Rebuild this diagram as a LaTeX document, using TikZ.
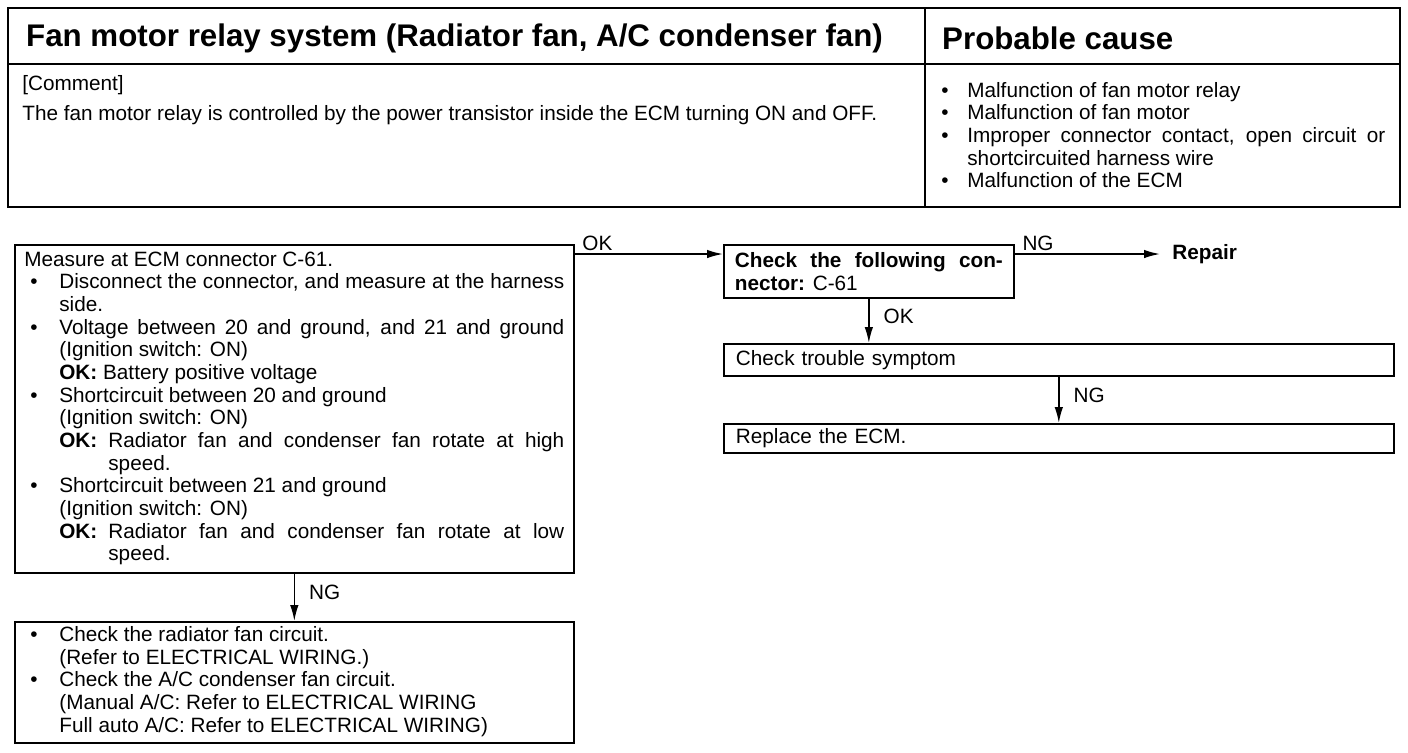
\documentclass[tikz,border=0pt]{standalone}
\usepackage{fontspec}
\setmainfont{Liberation Sans}
\usetikzlibrary{arrows.meta}
\newcommand{\blt}{\hspace{0.12cm}\textbullet}
\newcommand{\okhang}[1]{\hangindent=0.98cm\hangafter=1\noindent\makebox[0.98cm][l]{\textbf{OK:}}#1}

\begin{document}
\begin{tikzpicture}[x=0.02cm, y=-0.02cm,
    every node/.style={font=\fontsize{11.8}{12.9}\selectfont},
    bx/.style={draw, line width=1pt, anchor=north west, inner sep=0pt},
    hd/.style={anchor=west, font=\fontsize{17.8}{20}\selectfont\bfseries},
    lb/.style={inner xsep=0.14cm, inner ysep=0.06cm},
    ar/.style={-{Latex[length=0.32cm,width=0.17cm]}, line width=0.9pt}]
    \useasboundingbox (0,0) rectangle (1408,752);
    % header table
    \draw[line width=1.5pt] (8,8) rectangle (1400,207);
    \draw[line width=1pt] (8,64) -- (1400,64) (925,8) -- (925,207);
    \node[hd] (ttl) at (20,38) {Fan motor relay system (Radiator fan, A/C condenser fan)};
    \node[hd] (pcs) at (936,38) {Probable cause};
    \node[anchor=north west, inner sep=0pt, align=left] (cmt) at (22,75)
      {[Comment]\\[4pt]The fan motor relay is controlled by the power transistor inside the ECM turning ON and OFF.};
    \node[anchor=base west, inner sep=0pt] (cause) at (935,97) {\begin{tabular}[t]{@{}p{0.64cm}@{}p{8.36cm}@{}}
      \blt & Malfunction of fan motor relay\\
      \blt & Malfunction of fan motor\\
      \blt & Improper connector contact, open circuit or\linebreak shortcircuited harness wire\\
      \blt & Malfunction of the ECM
    \end{tabular}};
    % flow chart
    \node[bx, minimum width=11.18cm, minimum height=6.56cm] (meas) at (14,244) {\begin{tabular}{@{}p{0.7cm}@{}p{10.1cm}@{}}
      \multicolumn{2}{@{}p{10.8cm}@{}}{Measure at ECM connector C-61.}\\
      \blt & Disconnect the connector, and measure at the harness\linebreak side.\\
      \blt & Voltage between 20 and ground, and 21 and ground\linebreak (Ignition switch: ON)\newline
             \textbf{OK:} Battery positive voltage\\
      \blt & Shortcircuit between 20 and ground\newline (Ignition switch: ON)\par
             \okhang{Radiator fan and condenser fan rotate at high\linebreak speed.}\\
      \blt & Shortcircuit between 21 and ground\newline (Ignition switch: ON)\par
             \okhang{Radiator fan and condenser fan rotate at low\linebreak speed.}
    \end{tabular}};
    \node[bx, minimum width=11.18cm, minimum height=2.42cm] (fix) at (14,621) {\begin{tabular}{@{}p{0.7cm}@{}p{10.1cm}@{}}
      \blt & Check the radiator fan circuit.\newline (Refer to ELECTRICAL WIRING.)\\
      \blt & Check the A/C condenser fan circuit.\newline (Manual A/C: Refer to ELECTRICAL WIRING\newline
             Full auto A/C: Refer to ELECTRICAL WIRING)
    \end{tabular}};
    \node[bx, minimum width=5.8cm, minimum height=1.06cm, text width=5.36cm, align=justify] (conn) at (723,244)
      {\textbf{Check the following con-\linebreak nector:} C-61};
    \node[anchor=west, inner xsep=0.24cm, font=\fontsize{11.8}{12.9}\selectfont\bfseries] (rep) at (1160,254) {Repair};
    \node[bx, minimum width=13.4cm, minimum height=0.64cm, text width=12.92cm, align=left] (trbl) at (723,343) {Check trouble symptom};
    \node[bx, minimum width=13.4cm, minimum height=0.58cm, text width=12.92cm, align=left] (repl) at (723,423) {Replace the ECM.};
    \draw[ar] ([yshift=-0.2cm]meas.north east) -- node[lb, anchor=south west, at start]{OK} ([yshift=-0.2cm]conn.north west);
    \draw[ar] ([yshift=-0.2cm]conn.north east) -- node[lb, anchor=south west, at start]{NG} (rep.west);
    \draw[ar] (conn.south) -- node[lb, right, xshift=0.14cm, pos=0.4]{OK} (conn.south |- trbl.north);
    \draw[ar] (trbl.south) -- node[lb, right, xshift=0.14cm, pos=0.4]{NG} (repl.north);
    \draw[ar] (meas.south) -- node[lb, right, xshift=0.14cm, pos=0.4]{NG} (fix.north);
  \end{tikzpicture}
\end{document}
